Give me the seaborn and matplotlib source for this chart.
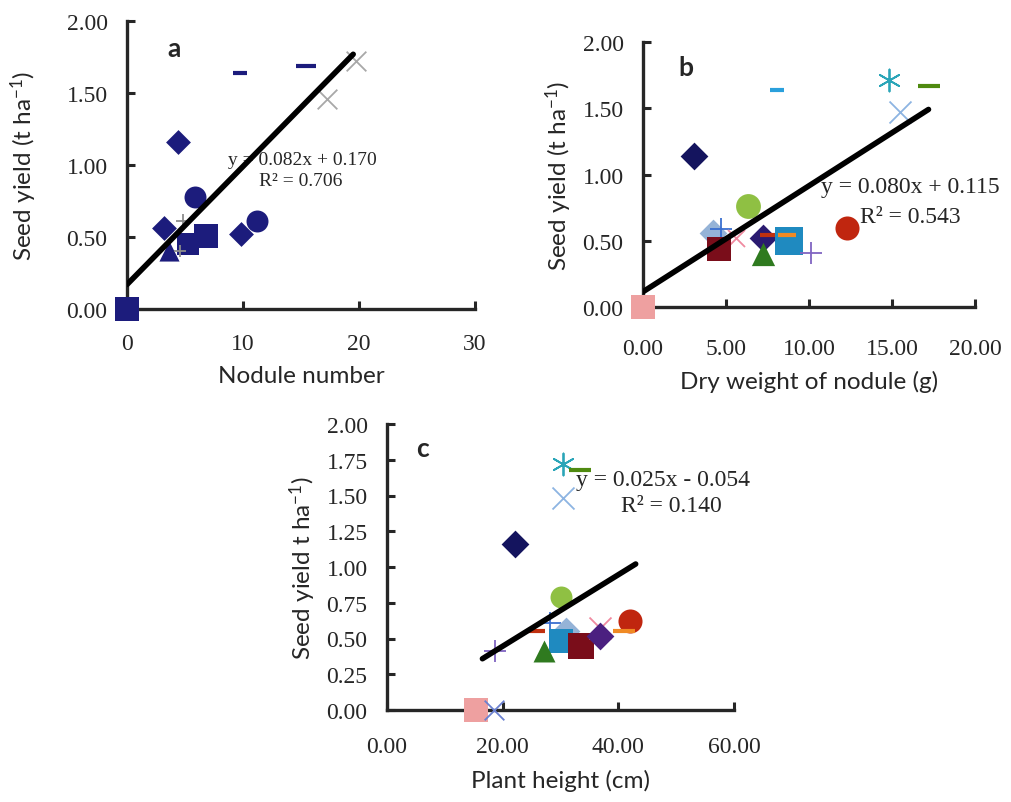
import pandas as pd
import matplotlib
matplotlib.use('Agg')
import matplotlib.pyplot as plt
import seaborn as sns

# panel a: nodule number vs seed yield
nod_x = [4.4, 5.9, 3.2, 4.8, 5.3, 6.8, 3.6, 4.6, 9.8, 11.2, 0.0, 9.7, 15.4, 17.2, 19.7]
nod_y = [1.16, 0.78, 0.56, 0.61, 0.45, 0.51, 0.40, 0.40, 0.52, 0.61, 0.00, 1.64, 1.69, 1.46, 1.72]

# panel b: dry weight of nodule vs seed yield
dw_x = [3.1, 8.1, 14.8, 17.2, 15.5, 6.3, 4.2, 4.7, 5.6, 4.6, 7.2, 7.6, 7.2, 8.8, 8.7, 10.1, 12.3, 0.0]
dw_y = [1.14, 1.64, 1.71, 1.67, 1.47, 0.76, 0.56, 0.59, 0.52, 0.44, 0.52, 0.54, 0.40, 0.50, 0.54, 0.41, 0.60, 0.00]

# panel c: plant height vs seed yield
ph_x = [22.2, 30.4, 33.3, 30.4, 30.1, 28.2, 31.0, 30.1, 25.8, 27.2, 33.5, 36.8, 36.8, 42.1, 41.0, 18.6, 15.4, 18.5]
ph_y = [1.16, 1.72, 1.68, 1.48, 0.79, 0.61, 0.55, 0.48, 0.55, 0.41, 0.45, 0.57, 0.52, 0.62, 0.55, 0.41, 0.00, 0.00]

# fitted lines (slope, intercept, x-range)
fit_a = (0.082, 0.170, [0.0, 19.5])
fit_b = (0.080, 0.115, [0.0, 17.2])
fit_c = (0.025, -0.054, [16.5, 43.0])

# styles
navy = '#1c1c7c'
mk_a = ['D', 'o', 'D', '+', 's', 's', '^', '+', 'D', 'o', 's', '_', '_', 'x', 'x']
col_a = [navy] * 3 + ['#8c8c8c'] + [navy] * 3 + ['#8c8c8c'] + [navy] * 5 + ['#a8a8a8', '#a8a8a8']
sz_a = [160, 250, 160, 110, 250, 320, 210, 80, 160, 250, 300, 90, 220, 200, 200]

mk_b = ['D', '_', (6, 2, 0), '_', 'x', 'o', 'D', '+', 'x', 's', 'D', '_', '^', 's', '_', '+', 'o', 's']
col_b = ['#14145e', '#2aa0dc', '#2aa5b8', '#4f8a10', '#8db4e2', '#8fc043', '#95b3d7', '#3a6fd0', '#f08aa0',
         '#7a0d1a', '#2a1a70', '#c0300f', '#2f7a1f', '#1f8ac0', '#f08a24', '#8064c2', '#c0260f', '#eea0a0']
sz_b = [200, 90, 250, 250, 250, 320, 200, 250, 150, 320, 200, 150, 280, 420, 150, 250, 300, 300]

mk_c = ['D', (6, 2, 0), '_', 'x', 'o', '+', 'D', 's', '_', '^', 's', 'x', 'D', 'o', '_', '+', 's', 'x']
col_c = ['#14145e', '#2aa5b8', '#4f8a10', '#8db4e2', '#8fc043', '#3a6fd0', '#95b3d7', '#1f8ac0', '#c0300f',
         '#2f7a1f', '#7a0d1a', '#f08aa0', '#4b2080', '#c0260f', '#f08a24', '#8064c2', '#eea0a0', '#6a80d0']
sz_c = [200, 250, 250, 250, 250, 250, 200, 320, 150, 250, 350, 250, 200, 300, 250, 250, 320, 200]

sns.set_style('ticks')
plt.rcParams['font.family'] = ['Liberation Serif', 'DejaVu Serif']
plt.rcParams['mathtext.fontset'] = 'custom'
plt.rcParams['mathtext.rm'] = 'Lato'
plt.rcParams['mathtext.it'] = 'Lato:italic'
plt.rcParams['mathtext.bf'] = 'Lato:bold'
lab_font = 'Lato'

fig = plt.figure(figsize=(10.11, 8.03), dpi=100)
W, H = 1011, 803


def px_axes(x0, x1, ytop, ybot):
    return fig.add_axes([x0 / W, 1 - ybot / H, (x1 - x0) / W, (ybot - ytop) / H])


def panel(ax, xs, ys, mks, cols, szs, fit, xlim, xticks, xfmt, yticks, xlabel, ylabel, ypad, xpad, letter,
          letter_pos, eq, eq_pos, r2, r2_pos, eq_size):
    for xi, yi, m, c, s in zip(xs, ys, mks, cols, szs):
        lw = 3 if m == '_' else 1.3
        if m in ('+', 'x', '_') or isinstance(m, tuple):
            sns.scatterplot(x=[xi], y=[yi], marker=m, color=c, s=s, linewidth=lw, ax=ax,
                            clip_on=False, zorder=3, legend=False)
        else:
            sns.scatterplot(x=[xi], y=[yi], marker=m, color=c, s=s, linewidth=0, ax=ax,
                            clip_on=False, zorder=3, legend=False)
    slope, icpt, xr = fit
    line = pd.DataFrame({'x': xr, 'y': [slope * v + icpt for v in xr]})
    sns.lineplot(data=line, x='x', y='y', color='black', linewidth=4, ax=ax, zorder=4)
    ax.set_xlim(*xlim)
    ax.set_ylim(0, 2)
    ax.set_xticks(xticks)
    ax.set_xticklabels([xfmt.format(v) for v in xticks])
    ax.set_yticks(yticks)
    ax.set_yticklabels(['{:.2f}'.format(v) for v in yticks])
    ax.tick_params(direction='in', length=6, width=2.2, labelsize=17, pad=14)
    ax.tick_params(axis='x', pad=xpad)
    for sp in ['top', 'right']:
        ax.spines[sp].set_visible(False)
    for sp in ['left', 'bottom']:
        ax.spines[sp].set_linewidth(2.4)
    ax.set_xlabel(xlabel, family=lab_font, fontsize=17.5, labelpad=8)
    ax.set_ylabel(ylabel, family=lab_font, fontsize=17.5, labelpad=ypad)
    ax.text(letter_pos[0], letter_pos[1], letter, family=lab_font, fontweight='bold', fontsize=19,
            ha='center', va='center')
    ax.text(eq_pos[0], eq_pos[1], eq, fontsize=eq_size, ha='center', va='center')
    ax.text(r2_pos[0], r2_pos[1], r2, fontsize=eq_size, ha='center', va='center')


ax_a = px_axes(127, 475, 22, 310)
panel(ax_a, nod_x, nod_y, mk_a, col_a, sz_a, fit_a, (0, 30), [0, 10, 20, 30], '{:.0f}',
      [0, 0.5, 1.0, 1.5, 2.0], 'Nodule number', 'Seed yield (t ha$^{-1}$)', 20, 17, 'a', (4.1, 1.81),
      'y = 0.082x + 0.170', (15.1, 1.04), 'R² = 0.706', (15.0, 0.89), 14)

ax_b = px_axes(643, 975, 43, 308)
panel(ax_b, dw_x, dw_y, mk_b, col_b, sz_b, fit_b, (0, 20), [0, 5, 10, 15, 20], '{:.2f}',
      [0, 0.5, 1.0, 1.5, 2.0], 'Dry weight of nodule (g)', 'Seed yield (t ha$^{-1}$)', 6, 22, 'b', (2.6, 1.81),
      'y = 0.080x + 0.115', (16.1, 0.906), 'R² = 0.543', (16.1, 0.68), 17)

ax_c = px_axes(387, 734, 425, 711)
panel(ax_c, ph_x, ph_y, mk_c, col_c, sz_c, fit_c, (0, 60), [0, 20, 40, 60], '{:.2f}',
      [0, 0.25, 0.5, 0.75, 1.0, 1.25, 1.5, 1.75, 2.0], 'Plant height (cm)', 'Seed yield t ha$^{-1}$)', 6, 19,
      'c', (6.2, 1.83), 'y = 0.025x - 0.054', (47.7, 1.615), 'R² = 0.140', (49.1, 1.43), 17)

fig.savefig('out.png', dpi=100)
